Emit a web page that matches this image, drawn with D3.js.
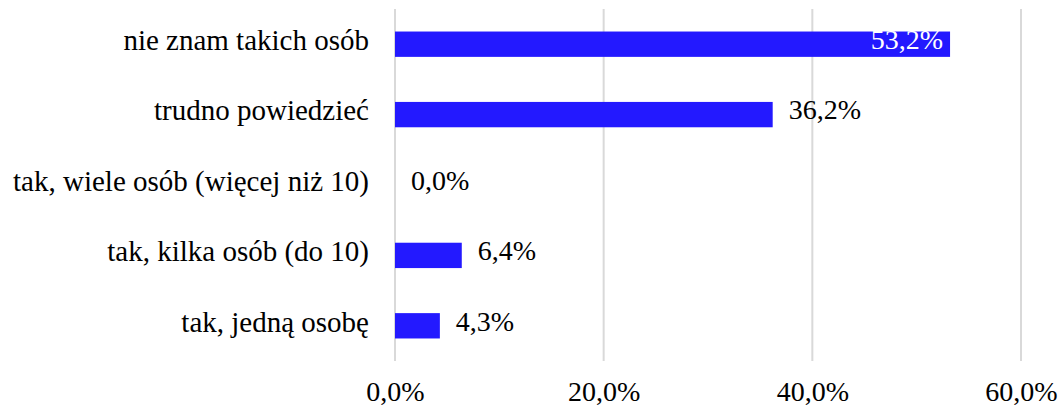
<!DOCTYPE html>
<html>
<head>
<meta charset="utf-8">
<script src="https://cdn.jsdelivr.net/npm/d3@7"></script>
<style>
  html, body { margin: 0; padding: 0; background: #ffffff; }
  svg { display: block; }
</style>
</head>
<body>
<svg id="chart" width="1064" height="406"></svg>
<script>
const categories = [
  "nie znam takich osób",
  "trudno powiedzieć",
  "tak, wiele osób (więcej niż 10)",
  "tak, kilka osób (do 10)",
  "tak, jedną osobę"
];
const values = [53.2, 36.2, 0.0, 6.4, 4.3];
const valueLabels = ["53,2%", "36,2%", "0,0%", "6,4%", "4,3%"];
const tickValues = [0, 20, 40, 60];
const tickLabels = ["0,0%", "20,0%", "40,0%", "60,0%"];

const svg = d3.select("#chart");
const catFontSize = 29;
const fontSize = 28;
const fontFam = "'Liberation Serif', 'Times New Roman', serif";
const barColor = "#2319ff";

const x = d3.scaleLinear().domain([0, 60]).range([395, 1021]);
const y = d3.scaleBand().domain(categories).range([9, 361])
  .paddingInner(0.64).paddingOuter(0.32);

// gridlines
svg.append("g").selectAll("line").data(tickValues).join("line")
  .attr("x1", d => x(d)).attr("x2", d => x(d))
  .attr("y1", 9).attr("y2", 361)
  .attr("stroke", "#d9d9d9").attr("stroke-width", 2);

// x axis labels
const xAxis = d3.axisBottom(x).tickValues(tickValues)
  .tickFormat((d, i) => tickLabels[i]).tickSize(0).tickPadding(0);
const gx = svg.append("g").attr("transform", "translate(0,401)").call(xAxis);
gx.select(".domain").remove();
gx.attr("font-family", null).attr("font-size", null);
gx.selectAll("text").style("font-size", fontSize + "px").style("font-family", fontFam)
  .attr("fill", "#000").attr("y", 0).attr("dy", "0");

// y axis labels
const yAxis = d3.axisLeft(y).tickSize(0).tickPadding(0);
const gy = svg.append("g").attr("transform", "translate(369,0)").call(yAxis);
gy.select(".domain").remove();
gy.attr("font-family", null).attr("font-size", null);
gy.selectAll("text").style("font-size", catFontSize + "px").style("font-family", fontFam)
  .attr("fill", "#000").attr("dy", "0.2em");

// bars
svg.append("g").selectAll("rect").data(values).join("rect")
  .attr("x", x(0))
  .attr("y", (d, i) => y(categories[i]))
  .attr("width", d => x(d) - x(0))
  .attr("height", y.bandwidth())
  .attr("fill", barColor);

// value labels
svg.append("g").selectAll("text").data(values).join("text")
  .attr("x", (d, i) => i === 0 ? x(d) - 7 : x(d) + 16)
  .attr("y", (d, i) => y(categories[i]) + y.bandwidth() / 2)
  .attr("dy", "0.17em")
  .attr("text-anchor", (d, i) => i === 0 ? "end" : "start")
  .style("font-size", fontSize + "px")
  .style("font-family", fontFam)
  .attr("fill", (d, i) => i === 0 ? "#ffffff" : "#000000")
  .text((d, i) => valueLabels[i]);
</script>
</body>
</html>
